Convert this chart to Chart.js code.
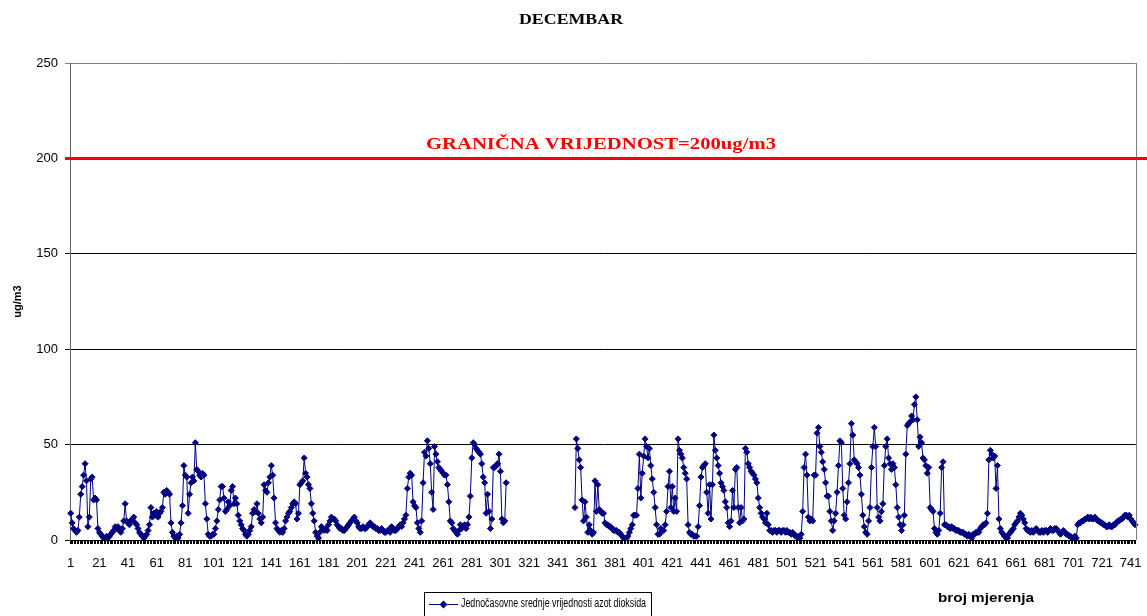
<!DOCTYPE html>
<html>
<head>
<meta charset="utf-8">
<title>DECEMBAR</title>
<script src="https://cdn.jsdelivr.net/npm/chart.js@4.4.1/dist/chart.umd.min.js"></script>
<style>
  html, body { margin: 0; padding: 0; background: #fff; }
  #wrap { width: 1147px; height: 616px; }
</style>
</head>
<body>
<div id="wrap"><canvas id="mycanvas" width="1147" height="616"></canvas></div>
<script>
// hourly NO2 values for December, ug/m3 (null = no measurement)
var no2 = [
  14,9,6,5,4,5,12,24,28,34,40,31,7,12,32,33,21,22,21,6,
  4,3,2,1,1,2,1,2,3,4,5,7,6,7,5,4,6,10,19,10,
  9,8,10,11,12,9,8,6,4,3,2,1,2,3,5,8,17,12,14,13,
  15,12,14,15,17,25,24,26,25,24,9,4,2,1,2,1,3,9,18,39,
  34,33,14,24,30,33,31,51,37,36,34,33,35,34,19,11,3,2,2,3,
  3,6,10,16,21,28,28,22,15,16,20,18,26,28,19,22,19,13,10,8,
  6,5,3,2,3,5,7,14,16,15,19,14,11,9,12,29,26,25,30,33,
  39,34,22,9,6,5,4,5,4,6,10,12,14,15,17,19,20,19,11,14,
  29,30,31,43,35,33,29,27,19,14,10,4,2,1,4,7,6,5,6,5,
  8,10,12,11,11,10,8,7,6,6,5,5,6,7,8,9,10,11,12,10,
  9,7,6,6,7,6,6,7,8,9,8,7,7,6,6,5,5,6,5,4,
  4,5,5,4,7,6,5,5,6,7,8,7,9,11,13,27,33,35,34,20,
  18,17,9,6,4,10,30,46,44,52,48,40,25,16,49,45,41,38,37,36,
  35,34,34,29,20,10,9,6,5,4,3,5,8,6,7,8,6,8,12,23,
  43,51,50,48,47,46,45,40,33,30,14,24,15,6,11,38,38,39,40,45,
  36,11,9,10,30,null,null,null,null,null,null,null,null,null,null,null,null,null,null,null,
  null,null,null,null,null,null,null,null,null,null,null,null,null,null,null,null,null,null,null,null,
  null,null,null,null,null,null,null,null,null,null,null,null,17,53,48,42,38,21,10,20,
  12,4,8,5,3,4,31,15,29,16,15,14,14,9,8,8,7,7,6,5,
  5,5,4,4,3,2,1,1,1,2,4,6,8,13,13,13,27,45,22,35,
  44,53,49,43,48,39,32,25,17,8,3,3,6,5,5,8,15,28,36,17,
  28,15,22,15,53,47,45,43,38,35,32,8,4,3,3,2,2,2,7,18,
  33,38,39,40,25,14,29,11,29,55,47,43,39,35,30,28,26,20,17,9,
  7,10,26,17,37,38,17,9,17,10,11,48,46,40,38,36,35,34,32,30,
  22,17,14,12,11,9,14,8,5,5,4,5,5,4,5,5,4,5,5,4,
  5,4,4,3,4,3,2,2,1,1,3,15,38,45,34,12,10,11,10,34,
  34,56,59,49,46,41,37,30,23,23,15,10,5,10,14,25,39,52,51,27,
  13,11,20,30,40,61,55,42,41,40,38,34,24,13,7,4,3,10,17,38,
  49,59,49,17,12,10,15,19,39,49,53,43,40,37,40,38,29,17,12,8,
  5,8,13,45,60,61,62,65,63,71,75,63,49,54,51,43,42,39,35,38,
  17,16,15,6,4,3,5,14,38,41,8,8,7,7,6,7,6,6,5,5,
  5,4,4,4,3,3,2,3,2,1,3,3,4,4,4,6,7,8,8,9,
  14,42,47,45,43,44,27,39,11,6,4,3,2,1,1,3,4,5,6,8,
  9,10,12,14,13,11,9,6,5,5,4,5,4,5,6,5,4,4,5,4,
  5,5,4,5,6,5,5,6,6,5,4,3,4,5,4,3,3,2,2,1,
  1,2,1,8,9,9,10,10,11,11,12,11,12,11,11,12,11,10,10,9,
  9,8,8,7,7,8,7,7,8,8,9,10,10,11,11,12,13,13,12,13,
  11,10,9,8
];

var chartTitle = "DECEMBAR";
var seriesLabel = "Jednočasovne srednje vrijednosti azot dioksida";
var xTitle = "broj mjerenja";
var yTitle = "ug/m3";
var limitValue = 200;
var limitLabel = "GRANIČNA VRIJEDNOST=200ug/m3";
var yMin = 0, yMax = 250, yStep = 50;
var labelEvery = 20;

// measurement numbers 1..n are the categories
var hours = [];
for (var i = 0; i < no2.length; i++) {
  hours.push(String(i + 1));
}

// draws text centred (or left aligned) and fitted to a given width
function fitText(ctx, text, x, y, width, align) {
  var w = ctx.measureText(text).width;
  var sx = width ? width / w : 1;
  ctx.save();
  ctx.translate(x, y);
  ctx.scale(sx, 1);
  ctx.textAlign = align || 'center';
  ctx.textBaseline = 'middle';
  ctx.fillText(text, 0, 0);
  ctx.restore();
}

var decorPlugin = {
  id: 'decor',
  beforeDraw: function(chart) {
    var ctx = chart.ctx;
    ctx.save();
    ctx.fillStyle = '#fff';
    ctx.fillRect(0, 0, chart.width, chart.height);
    ctx.restore();
  },
  afterDraw: function(chart) {
    var ctx = chart.ctx;
    var area = chart.chartArea;
    var ys = chart.scales.y;
    ctx.save();

    // right edge of plot area
    ctx.strokeStyle = '#808080';
    ctx.lineWidth = 1;
    ctx.beginPath();
    ctx.moveTo(Math.round(area.right) + 0.5, area.top);
    ctx.lineTo(Math.round(area.right) + 0.5, area.bottom);
    ctx.stroke();

    // limit line
    var ly = ys.getPixelForValue(limitValue);
    ctx.strokeStyle = '#ff0000';
    ctx.lineWidth = 3;
    ctx.beginPath();
    ctx.moveTo(area.left - 5, ly);
    ctx.lineTo(chart.width, ly);
    ctx.stroke();

    ctx.fillStyle = '#ff0000';
    ctx.font = 'bold 17px "Liberation Serif"';
    fitText(ctx, limitLabel, 601, ly - 14, 350);

    // title
    ctx.fillStyle = '#000';
    ctx.font = 'bold 14px "Liberation Serif"';
    fitText(ctx, chartTitle, 571, 20, 104);

    // x axis title
    ctx.font = 'bold 13px "Liberation Sans"';
    fitText(ctx, xTitle, 986, 598, 96);

    // legend
    ctx.strokeStyle = '#000';
    ctx.lineWidth = 1;
    ctx.strokeRect(424.5, 592.5, 227, 30);
    ctx.strokeStyle = '#000080';
    ctx.beginPath();
    ctx.moveTo(429, 604.5);
    ctx.lineTo(458, 604.5);
    ctx.stroke();
    ctx.fillStyle = '#000080';
    ctx.beginPath();
    ctx.moveTo(443.5, 600.5);
    ctx.lineTo(447.5, 604.5);
    ctx.lineTo(443.5, 608.5);
    ctx.lineTo(439.5, 604.5);
    ctx.closePath();
    ctx.fill();
    ctx.fillStyle = '#000';
    ctx.font = '12px "Liberation Sans"';
    fitText(ctx, seriesLabel, 461, 604, 185, 'left');

    ctx.restore();
  }
};

var ctx = document.getElementById('mycanvas');

var chart = new Chart(ctx, {
  type: 'line',
  data: {
    labels: hours,
    datasets: [
      {
        label: seriesLabel,
        data: no2,
        borderColor: '#000080',
        backgroundColor: '#000080',
        borderWidth: 1,
        pointStyle: 'rectRot',
        pointRadius: 3,
        pointBorderWidth: 1,
        pointBackgroundColor: '#000080',
        pointBorderColor: '#000080',
        spanGaps: false,
        tension: 0,
        fill: false
      }
    ]
  },
  options: {
    responsive: false,
    animation: false,
    events: [],
    layout: { padding: { top: 63, right: 7, left: 0, bottom: 0 } },
    plugins: {
      legend: { display: false },
      title: { display: false },
      tooltip: { enabled: false }
    },
    scales: {
      x: {
        type: 'category',
        offset: true,
        grid: { display: true, drawOnChartArea: false, drawTicks: true, tickLength: 4, color: '#000', offset: true },
        border: { display: true, color: '#000', width: 1 },
        ticks: {
          autoSkip: false,
          maxRotation: 0,
          minRotation: 0,
          padding: 12,
          color: '#000',
          font: { family: 'Liberation Sans', size: 13 },
          callback: function(v, i) {
            return i % labelEvery === 0 ? hours[i] : '';
          }
        },
        afterFit: function(scale) { scale.height = 76; }
      },
      y: {
        min: yMin,
        max: yMax,
        ticks: {
          stepSize: yStep,
          padding: 7,
          color: '#000',
          font: { family: 'Liberation Sans', size: 13 }
        },
        grid: {
          color: function(c) { return c.tick && c.tick.value === yMax ? '#808080' : '#000'; },
          tickLength: 5,
          lineWidth: 1
        },
        border: { color: '#666' },
        title: {
          display: true,
          text: yTitle,
          color: '#000',
          font: { family: 'Liberation Sans', size: 11, weight: 'bold' },
          padding: { top: 11, bottom: 0 }
        },
        afterFit: function(scale) { scale.width = 70; }
      }
    }
  },
  plugins: [decorPlugin]
});
</script>
</body>
</html>
